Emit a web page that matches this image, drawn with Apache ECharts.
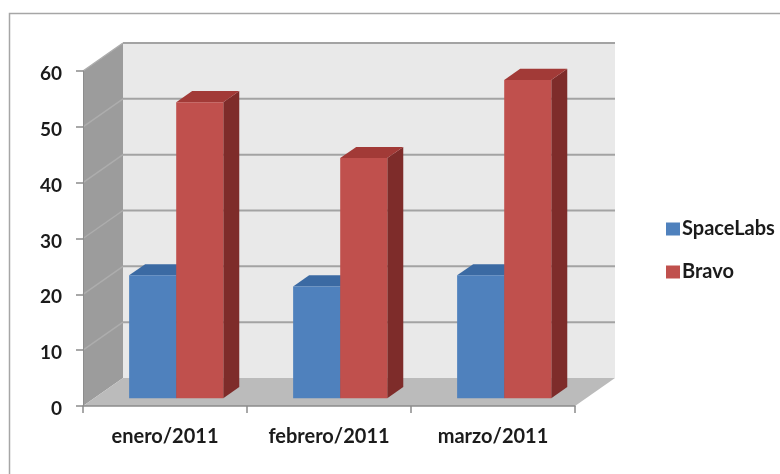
<!DOCTYPE html>
<html>
<head>
<meta charset="utf-8">
<script src="https://cdn.jsdelivr.net/npm/echarts@6/dist/echarts.min.js"></script>
<style>
  html, body { margin: 0; padding: 0; background: #fff; }
  #chart { width: 780px; height: 474px; }
</style>
</head>
<body>
<div id="chart"></div>
<script>
// data
const categories = ['enero/2011', 'febrero/2011', 'marzo/2011'];
const spaceLabs = [22, 20, 22];
const bravo = [53, 43, 57];
const yTicks = [0, 10, 20, 30, 40, 50, 60];

// fake 3D: back wall offset in px, bar depth as fraction of it
const DEPTH = [40, -28];
const FRONT = 0.28, BACK = 0.68;
const BAR = 0.287;
const FONT = 'Lato';

const palette = {
  SpaceLabs: { front: '#4F81BD', top: '#3B6AA3', side: '#2E5282' },
  Bravo: { front: '#C0504D', top: '#A23A37', side: '#7E2C2A' }
};

function off(p, f) {
  return [p[0] + DEPTH[0] * f, p[1] + DEPTH[1] * f];
}

function poly(points, fill) {
  return { type: 'polygon', shape: { points: points }, style: { fill: fill }, silent: true };
}

function line(a, b, color, w) {
  return {
    type: 'line',
    shape: { x1: a[0], y1: a[1], x2: b[0], y2: b[1] },
    style: { stroke: color, lineWidth: w },
    silent: true
  };
}

// walls + floor, from the grid's own rect and the y scale
function renderWalls(params, api) {
  const cs = params.coordSys;
  const x0 = cs.x, x1 = cs.x + cs.width;
  const yt = cs.y, yb = cs.y + cs.height;
  const kids = [];
  kids.push(poly([off([x0, yt], 1), off([x1, yt], 1), off([x1, yb], 1), off([x0, yb], 1)], '#E9E9E9'));
  kids.push(poly([[x0, yt], off([x0, yt], 1), off([x0, yb], 1), [x0, yb]], '#9C9C9C'));
  yTicks.forEach(function (v) {
    const y = api.coord([0, v])[1];
    if (v > 0) {
      kids.push(line(off([x0, y], 1), off([x1, y], 1), '#A3A3A3', 2));
      kids.push(line([x0, y], off([x0, y], 1), '#ADADAD', 1.5));
    }
  });
  kids.push(poly([[x0, yb], [x1, yb], off([x1, yb], 1), off([x0, yb], 1)], '#BBBBBB'));
  return { type: 'group', children: kids };
}

function renderBar(params, api) {
  const c = palette[params.seriesName];
  const idx = api.value(0);
  const base = api.coord([idx, 0]);
  const top = api.coord([idx, api.value(1)]);
  const w = api.size([1, 0])[0] * BAR;
  const left = base[0] + (params.seriesName === 'SpaceLabs' ? -w : 0);
  const A = [left, top[1]], B = [left + w, top[1]];
  const C = [left + w, base[1]], D = [left, base[1]];
  return {
    type: 'group',
    children: [
      poly([off(B, FRONT), off(B, BACK), off(C, BACK), off(C, FRONT)], c.side),
      poly([off(A, FRONT), off(B, FRONT), off(B, BACK), off(A, BACK)], c.top),
      poly([off(A, FRONT), off(B, FRONT), off(C, FRONT), off(D, FRONT)], c.front)
    ]
  };
}

const chart = echarts.init(document.getElementById('chart'));

const option = {
  animation: false,
  graphic: [{
    type: 'rect',
    left: 7, top: 11,
    shape: { width: 800, height: 500 },
    style: { fill: 'none', stroke: '#A6A6A6', lineWidth: 1.5 },
    silent: true
  }],
  grid: { left: 83, top: 71, width: 492, height: 335 },
  legend: {
    data: ['SpaceLabs', 'Bravo'],
    orient: 'vertical',
    left: 661, top: 214,
    icon: 'rect',
    itemWidth: 14, itemHeight: 13, itemGap: 23,
    textStyle: { fontFamily: FONT, fontSize: 20, fontWeight: 'bold', color: '#1b1b1b', padding: [0, 0, 0, -3] }
  },
  xAxis: {
    type: 'category',
    data: categories,
    z: 5,
    axisLine: { lineStyle: { color: '#8C8C8C', width: 1.5 } },
    axisTick: { show: true, length: 7, lineStyle: { color: '#8C8C8C', width: 1.5 } },
    axisLabel: { margin: 21, fontFamily: FONT, fontSize: 20, fontWeight: 'bold', color: '#1b1b1b' },
    splitLine: { show: false }
  },
  yAxis: {
    type: 'value',
    min: 0, max: 60, interval: 10,
    z: 5,
    axisLine: { show: true, lineStyle: { color: '#8C8C8C', width: 1 } },
    axisTick: { show: true, length: 7, lineStyle: { color: '#8C8C8C', width: 1.5 } },
    axisLabel: { margin: 21, verticalAlign: 'top', lineHeight: 6, fontFamily: FONT, fontSize: 19, fontWeight: 'bold', color: '#1b1b1b' },
    splitLine: { show: false }
  },
  series: [
    {
      name: 'walls',
      type: 'custom',
      z: 1,
      silent: true,
      renderItem: renderWalls,
      encode: { x: 0, y: 1 },
      data: [[0, 0]]
    },
    {
      name: 'SpaceLabs',
      type: 'custom',
      z: 2,
      itemStyle: { color: palette.SpaceLabs.front },
      renderItem: renderBar,
      encode: { x: 0, y: 1 },
      data: spaceLabs.map(function (v, i) { return [i, v]; })
    },
    {
      name: 'Bravo',
      type: 'custom',
      z: 3,
      itemStyle: { color: palette.Bravo.front },
      renderItem: renderBar,
      encode: { x: 0, y: 1 },
      data: bravo.map(function (v, i) { return [i, v]; })
    }
  ]
};

chart.setOption(option);
</script>
</body>
</html>
